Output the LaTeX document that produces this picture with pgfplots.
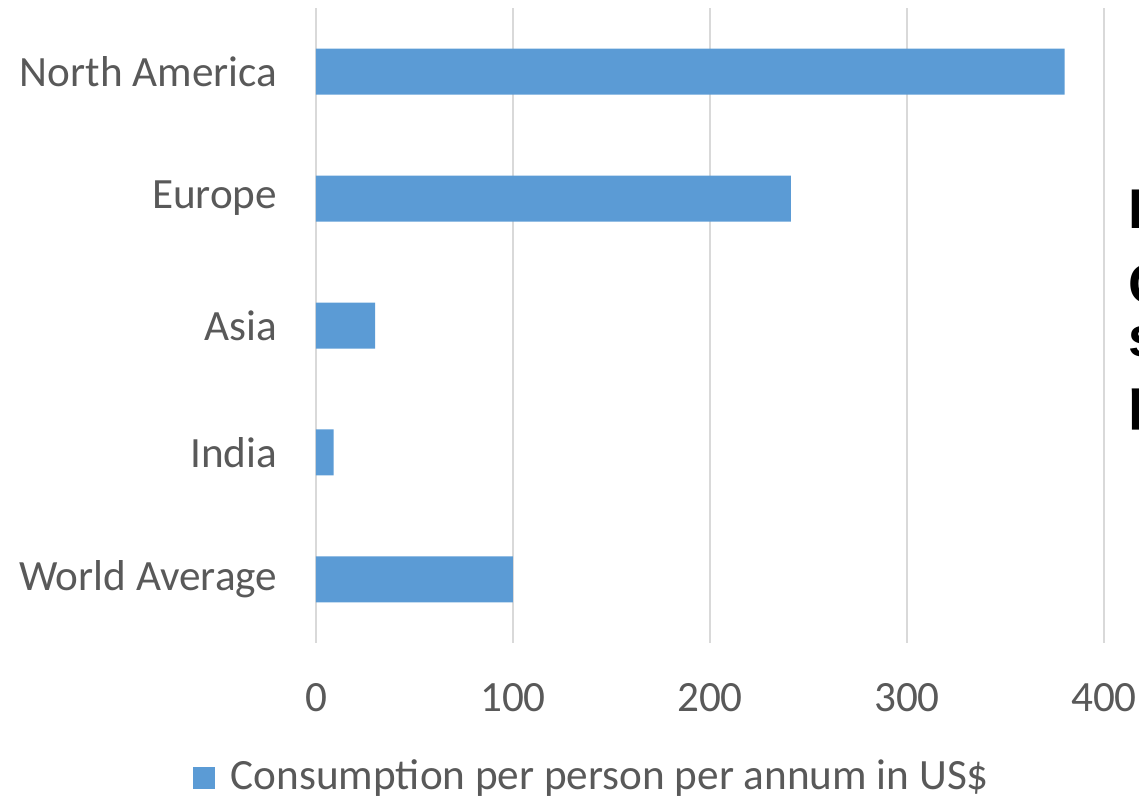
\documentclass[border=0pt]{standalone}
\usepackage{fontspec}
\setmainfont{Carlito}
\newfontfamily\slidefont{Liberation Sans}
\usepackage{pgfplots}
\pgfplotsset{compat=1.18}

\definecolor{barblue}{HTML}{5B9BD5}
\definecolor{txtgray}{HTML}{595959}
\definecolor{gridgray}{HTML}{D9D9D9}

\begin{document}
\begin{tikzpicture}
% page = 1139 x 802 px at 0.25pt per px
\useasboundingbox (0,0) rectangle (284.75pt,200.5pt);
\begin{axis}[
    at={(79pt,39.75pt)}, anchor=south west,
    scale only axis,
    width=197pt, height=158.75pt,
    xmin=0, xmax=400,
    ymin=-0.5, ymax=4.5,
    xtick={0,100,200,300,400},
    ytick={0,1,2,3,4},
    yticklabels={World Average,India,Asia,Europe,North America},
    xmajorgrids,
    major grid style={gridgray, line width=0.6pt},
    axis line style={draw=none},
    tick style={draw=none},
    /pgf/number format/assume math mode=true,
    tick label style={font=\fontsize{10.8}{13}\selectfont, text=txtgray, inner sep=0pt},
    yticklabel style={xshift=-9.5pt},
    xticklabel style={yshift=-10pt},
    legend style={at={(0.354,-0.2126)}, anchor=center, draw=none,
        font=\fontsize{10.8}{13}\selectfont, text=txtgray},
    legend image code/.code={\fill[barblue] (0pt,-2.7pt) rectangle (5.5pt,2.7pt);
        \path (7.5pt,0pt);},
]
\addplot[xbar, bar width=11.5pt, fill=barblue, draw=none] coordinates {
    (100,0) (9,1) (30,2) (241,3) (380,4)
};
\addlegendentry{Consumption per person per annum in US\$}
\end{axis}
% fragments of slide text cut off at the right edge
\begin{scope}[font=\slidefont\bfseries\fontsize{14}{16}\selectfont, inner sep=0pt]
\node[anchor=base west] at (282pt,143.25pt) {I};
\node[anchor=base west] at (282pt,124.5pt) {C};
\node[anchor=base west] at (282pt,111.25pt) {s};
\node[anchor=base west] at (282pt,95.75pt) {p};
\end{scope}
\end{tikzpicture}
\end{document}
